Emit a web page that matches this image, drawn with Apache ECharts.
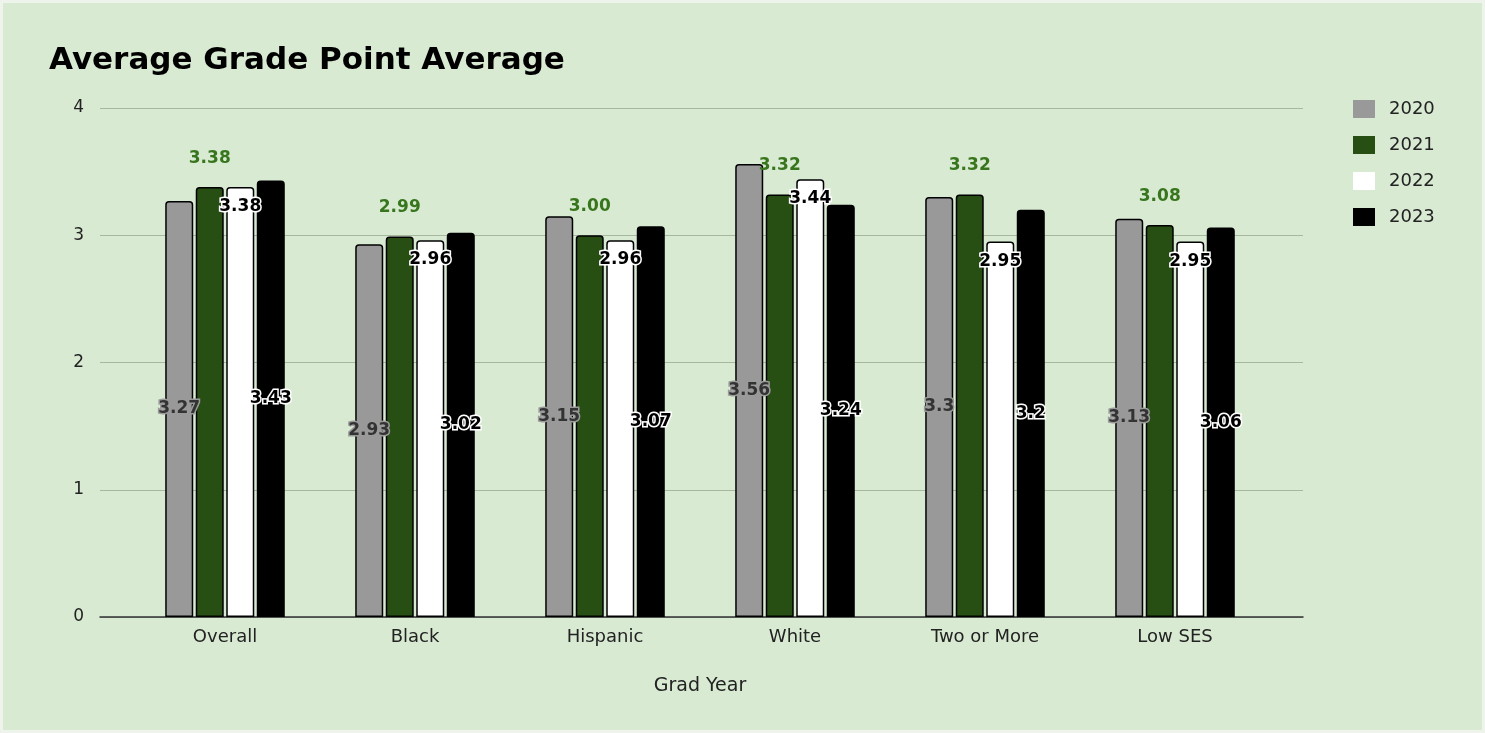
<!DOCTYPE html>
<html>
<head>
<meta charset="utf-8">
<script src="https://cdn.jsdelivr.net/npm/echarts@6/dist/echarts.min.js"></script>
<style>
html,body{margin:0;padding:0;background:#eef3ec;width:1485px;height:733px;overflow:hidden;}
#c{position:absolute;left:3px;top:3px;width:1479px;height:727px;}
</style>
</head>
<body>
<div id="c"></div>
<script>
var categories = ['Overall', 'Black', 'Hispanic', 'White', 'Two or More', 'Low SES'];
var years = ['2020', '2021', '2022', '2023'];
var v2020 = [3.27, 2.93, 3.15, 3.56, 3.3, 3.13];
var v2021 = [3.38, 2.99, 3.00, 3.32, 3.32, 3.08];
var v2022 = [3.38, 2.96, 2.96, 3.44, 2.95, 2.95];
var v2023 = [3.43, 3.02, 3.07, 3.24, 3.2, 3.06];
var yTicks = [0, 1, 2, 3, 4];

var font = 'DejaVu Sans, Verdana, sans-serif';
var chart = echarts.init(document.getElementById('c'));

function barSeries(name, data, color, label) {
  return {
    name: name, type: 'bar', xAxisIndex: 1, yAxisIndex: 1,
    data: data, barWidth: 28, barGap: '9%',
    itemStyle: {color: color, borderColor: '#000', borderWidth: 1.5, borderRadius: [3, 3, 0, 0]},
    label: label
  };
}

chart.setOption({
  backgroundColor: '#d9ead3',
  animation: false,
  title: {
    text: 'Average Grade Point Average', left: 41, top: 37,
    textStyle: {fontFamily: font, fontSize: 31, fontWeight: 'bold', color: '#000'}
  },
  legend: {
    data: years, orient: 'vertical', left: 1345, top: 92,
    icon: 'rect',
    itemWidth: 22, itemHeight: 18, itemGap: 18,
    itemStyle: {borderWidth: 0},
    textStyle: {fontFamily: font, fontSize: 18, color: '#222', padding: [0, 0, 0, 9]}
  },
  grid: [
    {left: 97, width: 1203, top: 105, height: 509},
    {left: 127, width: 1140, top: 105, height: 509}
  ],
  xAxis: [
    {type: 'value', gridIndex: 0, min: 0, max: 1,
     axisLine: {show: true, lineStyle: {color: '#333', width: 1.5}},
     axisTick: {show: false}, axisLabel: {show: false}, splitLine: {show: false}},
    {type: 'category', gridIndex: 1, data: categories,
     axisLine: {show: false}, axisTick: {show: false},
     axisLabel: {fontFamily: font, fontSize: 18, color: '#222', margin: 11},
     name: 'Grad Year', nameLocation: 'middle', nameGap: 60,
     nameTextStyle: {fontFamily: font, fontSize: 19, color: '#222'}}
  ],
  yAxis: [
    {type: 'value', gridIndex: 0, min: yTicks[0], max: yTicks[yTicks.length - 1], interval: 1,
     axisLine: {show: false}, axisTick: {show: false},
     axisLabel: {fontFamily: font, fontSize: 17, color: '#222', margin: 16},
     splitLine: {lineStyle: {color: '#a7b7a0', width: 1.2}}},
    {type: 'value', gridIndex: 1, min: yTicks[0], max: yTicks[yTicks.length - 1], show: false}
  ],
  series: [
    barSeries('2020', v2020, '#999999', {
      show: true, position: 'inside',
      fontFamily: font, fontSize: 17, fontWeight: 'bold', color: '#333333',
      textBorderColor: '#9a9a9a', textBorderWidth: 3
    }),
    barSeries('2021', v2021, '#274e13', {
      show: true, position: 'top', distance: 20,
      formatter: function (p) { return p.value.toFixed(2); },
      fontFamily: font, fontSize: 17, fontWeight: 'bold', color: '#38761d'
    }),
    barSeries('2022', v2022, '#ffffff', {
      show: true, position: 'insideTop', distance: 11,
      fontFamily: font, fontSize: 17, fontWeight: 'bold', color: '#000',
      textBorderColor: '#fff', textBorderWidth: 3
    }),
    barSeries('2023', v2023, '#000000', {
      show: true, position: 'inside',
      fontFamily: font, fontSize: 17, fontWeight: 'bold', color: '#000',
      textBorderColor: '#fff', textBorderWidth: 3
    })
  ]
});
</script>
</body>
</html>
